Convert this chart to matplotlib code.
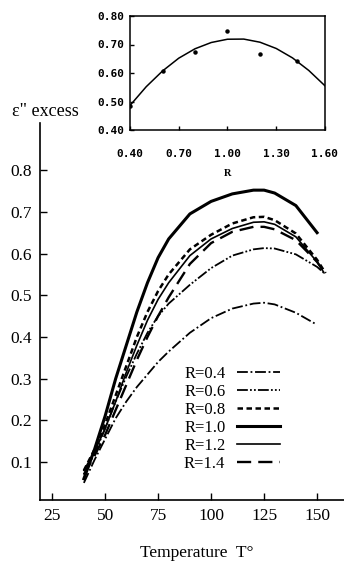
import numpy as np
import matplotlib
matplotlib.use("Agg")
import matplotlib.pyplot as plt

# main plot: eps'' excess vs temperature for several R
T_common = [40, 45, 50, 55, 60, 65, 70, 75, 80, 90, 100, 110, 120, 125, 130, 140, 150]

r04_T = T_common[:-1] + [149]
r04_y = [0.05, 0.105, 0.155, 0.205, 0.245, 0.28, 0.31, 0.34, 0.365, 0.41, 0.445, 0.468,
         0.48, 0.482, 0.478, 0.458, 0.432]

r06_T = T_common + [154]
r06_y = [0.07, 0.12, 0.18, 0.245, 0.305, 0.36, 0.41, 0.45, 0.48, 0.525, 0.565, 0.595,
         0.61, 0.613, 0.612, 0.598, 0.568, 0.55]

r08_T = T_common + [154]
r08_y = [0.08, 0.13, 0.19, 0.26, 0.33, 0.40, 0.46, 0.51, 0.55, 0.61, 0.645, 0.672,
         0.687, 0.688, 0.68, 0.648, 0.585, 0.553]

r10_T = T_common
r10_y = [0.06, 0.13, 0.21, 0.30, 0.38, 0.46, 0.53, 0.59, 0.635, 0.695, 0.725, 0.743,
         0.752, 0.752, 0.745, 0.715, 0.65]

r12_T = T_common + [153]
r12_y = [0.08, 0.125, 0.18, 0.245, 0.315, 0.38, 0.44, 0.49, 0.53, 0.595, 0.635, 0.66,
         0.675, 0.676, 0.67, 0.64, 0.58, 0.556]

r14_T = T_common + [153]
r14_y = [0.07, 0.115, 0.165, 0.225, 0.285, 0.345, 0.40, 0.45, 0.495, 0.575, 0.625, 0.652,
         0.664, 0.664, 0.658, 0.632, 0.58, 0.558]

labels = ["R=0.4", "R=0.6", "R=0.8", "R=1.0", "R=1.2", "R=1.4"]

# inset: peak value vs R
inset_R_pts = [0.40, 0.60, 0.80, 1.00, 1.20, 1.43]
inset_v_pts = [0.485, 0.608, 0.675, 0.747, 0.667, 0.642]
inset_R_fit = [0.4, 0.5, 0.6, 0.7, 0.8, 0.9, 1.0, 1.1, 1.2, 1.3, 1.4, 1.5, 1.6]
inset_v_fit = [0.486, 0.552, 0.607, 0.652, 0.685, 0.707, 0.7185, 0.719, 0.708, 0.686,
               0.653, 0.609, 0.555]

serif = ["Liberation Serif", "DejaVu Serif"]
plt.rcParams["font.family"] = serif

fig = plt.figure(figsize=(3.44, 5.63), dpi=100)
ax = fig.add_axes([40/344, 63/563, 304/344, 377/563])

styles = [
    dict(lw=1.3, ls=(0, (6, 1.5, 1, 1.5))),
    dict(lw=1.3, ls=(0, (6, 1.2, 1, 1.2, 1, 1.2))),
    dict(lw=1.8, ls=(0, (2.2, 1.4))),
    dict(lw=2.2, ls="-"),
    dict(lw=1.2, ls="-"),
    dict(lw=1.7, ls=(0, (6, 3))),
]
series = [(r04_T, r04_y), (r06_T, r06_y), (r08_T, r08_y),
          (r10_T, r10_y), (r12_T, r12_y), (r14_T, r14_y)]
for (tt, yy), st, lab in zip(series, styles, labels):
    ax.plot(tt, yy, color="black", linewidth=st["lw"], linestyle=st["ls"], label=lab)

ax.set_xlim(19.3, 162.7)
ax.set_ylim(0.009, 0.913)
ax.set_xticks([25, 50, 75, 100, 125, 150])
ax.set_yticks([0.1, 0.2, 0.3, 0.4, 0.5, 0.6, 0.7, 0.8])
ax.set_yticklabels(["0.1", "0.2", "0.3", "0.4", "0.5", "0.6", "0.7", "0.8"])
ax.tick_params(direction="in", length=5, width=1, labelsize=12.5, pad=6)
ax.spines["top"].set_visible(False)
ax.spines["right"].set_visible(False)
ax.spines["left"].set_linewidth(1.2)
ax.spines["bottom"].set_linewidth(1.2)

ax.legend(loc="upper left", bbox_to_anchor=(184/344, 1 - 366/563),
          bbox_transform=fig.transFigure, frameon=False, markerfirst=False,
          fontsize=12, handlelength=2.6, handletextpad=0.7, labelspacing=0.12,
          borderpad=0, borderaxespad=0)

fig.text(197/344, 1 - 553/563, "Temperature  T°", ha="center", va="center", fontsize=12.5)
fig.text(45/344, 1 - 111/563, 'ε" excess', ha="center", va="center", fontsize=13)

# inset
ins = fig.add_axes([130/344, 1 - 130/563, 195/344, 114/563])
ins.plot(inset_R_fit, inset_v_fit, color="black", linewidth=1.1)
ins.plot(inset_R_pts, inset_v_pts, "o", color="black", markersize=2.2)
ins.set_xlim(0.4, 1.6)
ins.set_ylim(0.4, 0.8)
ins.set_xticks([0.4, 0.7, 1.0, 1.3, 1.6])
ins.set_xticklabels(["0.40", "0.70", "1.00", "1.30", "1.60"])
ins.set_yticks([0.4, 0.5, 0.6, 0.7, 0.8])
ins.set_yticklabels(["0.40", "0.50", "0.60", "0.70", "0.80"])
ins.tick_params(direction="in", length=3, width=1)
ins.tick_params(axis="x", pad=14)
ins.tick_params(axis="y", pad=4)
for lab in ins.get_xticklabels() + ins.get_yticklabels():
    lab.set_family("DejaVu Sans Mono")
    lab.set_fontweight("bold")
    lab.set_fontsize(8)
for sp in ins.spines.values():
    sp.set_linewidth(1.1)
fig.text(228/344, 1 - 173/563, "R", ha="center", va="center", fontsize=7.5, fontweight="bold")

fig.savefig("out.png", dpi=100)
